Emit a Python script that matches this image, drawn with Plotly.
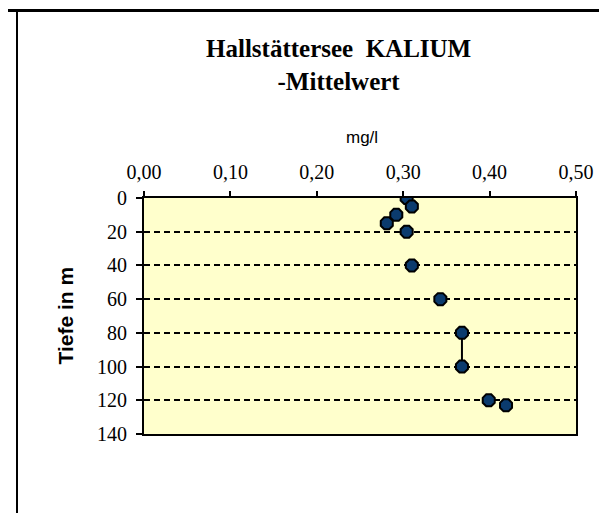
import plotly.graph_objects as go

# Data
depth = [0, 5, 10, 15, 20, 40, 60, 80, 100, 120, 123]
kalium = [0.304, 0.310, 0.292, 0.281, 0.304, 0.310, 0.343, 0.368, 0.368, 0.399, 0.419]
x_ticks = [0.0, 0.1, 0.2, 0.3, 0.4, 0.5]
x_tick_labels = ["0,00", "0,10", "0,20", "0,30", "0,40", "0,50"]
y_ticks = [0, 20, 40, 60, 80, 100, 120, 140]

SERIF = "'Times New Roman', 'Liberation Serif', 'DejaVu Serif', serif"
SANS = "Arial, 'Liberation Sans', sans-serif"

# page offset caused by the default body margin
OFF = 8
W, H = 607, 513
# plot area in page pixels: x 144..576, y 198..434
L, T = 144 - OFF, 198 - OFF
R, B = W - (576 - OFF), H - (434 - OFF)
pw, ph = W - L - R, H - T - B

def px_x(p):
    return (p - OFF - L) / pw

def px_y(p):
    return (H - B - (p - OFF)) / ph

fig = go.Figure()

# connecting segment between 80 m and 100 m
fig.add_trace(go.Scatter(
    x=kalium[7:9], y=depth[7:9], mode="lines",
    line=dict(color="black", width=2), hoverinfo="skip", showlegend=False))

fig.add_trace(go.Scatter(
    x=kalium, y=depth, mode="markers",
    marker=dict(symbol="octagon", size=13, color="#0B3B6E",
                line=dict(color="black", width=2)),
    showlegend=False))

fig.update_layout(
    width=W, height=H,
    margin=dict(l=L, r=R, t=T, b=B),
    paper_bgcolor="white",
    plot_bgcolor="#FFFFCC",
    showlegend=False,
    xaxis=dict(
        side="top", range=[0, 0.5], tickvals=x_ticks, ticktext=x_tick_labels,
        showgrid=False, zeroline=False,
        showline=True, linecolor="black", linewidth=2, mirror=True,
        ticks="outside", ticklen=5, tickwidth=2, tickcolor="black",
        ticklabelstandoff=4,
        tickfont=dict(family=SERIF, size=20, color="black"),
    ),
    yaxis=dict(
        range=[140, 0], tickvals=y_ticks,
        showgrid=True, gridcolor="black", gridwidth=2, griddash="6px,4px",
        zeroline=False,
        showline=True, linecolor="black", linewidth=2, mirror=True,
        ticks="outside", ticklen=6, tickwidth=2, tickcolor="black",
        ticklabelstandoff=5,
        tickfont=dict(family=SERIF, size=20, color="black"),
    ),
    annotations=[
        dict(text="<b>Hallstättersee\u00a0\u00a0KALIUM<br>-Mittelwert</b>",
             xref="paper", yref="paper", x=px_x(338), y=px_y(65),
             xanchor="center", yanchor="middle", showarrow=False,
             font=dict(family=SERIF, size=25, color="black")),
        dict(text="mg/l", xref="paper", yref="paper",
             x=px_x(362), y=px_y(137), xanchor="center", yanchor="middle",
             showarrow=False,
             font=dict(family=SANS, size=17, color="black")),
        dict(text="<b>Tiefe in m</b>", xref="paper", yref="paper",
             x=px_x(64.5), y=px_y(316), xanchor="center", yanchor="middle",
             textangle=-90, showarrow=False,
             font=dict(family=SANS, size=21, color="black")),
    ],
    shapes=[
        dict(type="line", xref="paper", yref="paper",
             x0=px_x(0), x1=px_x(W + OFF), y0=px_y(10.5), y1=px_y(10.5),
             line=dict(color="black", width=3)),
        dict(type="line", xref="paper", yref="paper",
             x0=px_x(17), x1=px_x(17), y0=px_y(10.5), y1=px_y(H + OFF),
             line=dict(color="black", width=2)),
    ],
)

fig.write_html("out.html")
